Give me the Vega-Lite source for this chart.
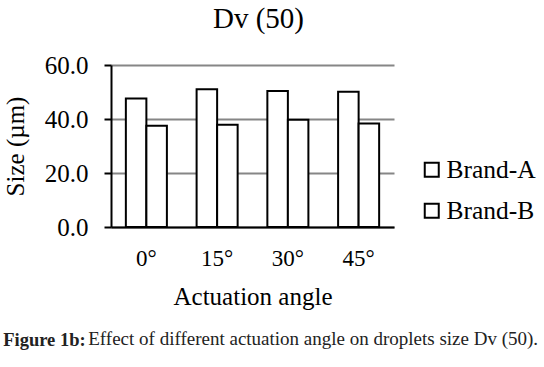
{
  "$schema": "https://vega.github.io/schema/vega-lite/v6.json",
  "padding": {"left": 3, "top": 5, "right": 0, "bottom": 5},
  "background": "white",
  "config": {
    "font": "Liberation Serif",
    "view": {"stroke": null},
    "concat": {"spacing": 0}
  },
  "title": {
    "text": "Effect of different actuation angle on droplets size Dv (50).",
    "orient": "bottom",
    "anchor": "start",
    "font": "Liberation Serif",
    "fontSize": 19,
    "fontWeight": "normal",
    "color": "#222222",
    "dx": 85,
    "dy": -24
  },
  "vconcat": [
    {
      "title": {
        "text": "Figure 1b:",
        "orient": "bottom",
        "anchor": "start",
        "font": "Liberation Serif",
        "fontSize": 18.5,
        "fontWeight": "bold",
        "color": "#222222",
        "offset": 22
      },
      "vconcat": [
        {
          "title": {"text": "Dv (50)", "fontSize": 29, "fontWeight": "normal", "font": "Liberation Serif", "color": "black", "offset": 19, "dx": 6},
          "width": 283,
          "height": 162,
          "data": {
            "values": [
              {"angle": "0°", "brand": "Brand-A", "size": 47.6},
              {"angle": "0°", "brand": "Brand-B", "size": 37.5},
              {"angle": "15°", "brand": "Brand-A", "size": 51.0},
              {"angle": "15°", "brand": "Brand-B", "size": 37.9},
              {"angle": "30°", "brand": "Brand-A", "size": 50.4},
              {"angle": "30°", "brand": "Brand-B", "size": 39.7},
              {"angle": "45°", "brand": "Brand-A", "size": 50.1},
              {"angle": "45°", "brand": "Brand-B", "size": 38.3}
            ]
          },
          "mark": {"type": "bar", "stroke": "black", "strokeWidth": 2},
          "encoding": {
            "x": {
              "field": "angle",
              "type": "nominal",
              "sort": ["0°", "15°", "30°", "45°"],
              "scale": {"paddingInner": 0.42, "paddingOuter": 0.21},
              "axis": {
                "title": "Actuation angle",
                "titleFont": "Liberation Serif",
                "titleFontSize": 25,
                "titleFontWeight": "normal",
                "titleColor": "black",
                "titlePadding": 14,
                "labelFont": "Liberation Serif",
                "labelFontSize": 23,
                "labelColor": "black",
                "labelAngle": 0,
                "labelPadding": 20,
                "ticks": false,
                "domainColor": "black",
                "domainWidth": 2
              }
            },
            "xOffset": {"field": "brand", "type": "nominal"},
            "y": {
              "field": "size",
              "type": "quantitative",
              "scale": {"domain": [0, 60], "nice": false},
              "axis": {
                "title": "Size (µm)",
                "titleFont": "Liberation Serif",
                "titleFontSize": 25,
                "titleFontWeight": "normal",
                "titleColor": "black",
                "titlePadding": 16,
                "values": [0, 20, 40, 60],
                "format": ".1f",
                "labelFont": "Liberation Serif",
                "labelFontSize": 25,
                "labelColor": "black",
                "labelPadding": 16,
                "tickColor": "black",
                "tickSize": 7,
                "tickWidth": 2,
                "domainColor": "black",
                "domainWidth": 2,
                "grid": true,
                "gridColor": "#868686",
                "gridWidth": 2
              }
            },
            "color": {
              "field": "brand",
              "type": "nominal",
              "scale": {"domain": ["Brand-A", "Brand-B"], "range": ["white", "white"]},
              "legend": {
                "title": null,
                "orient": "none",
                "legendX": 308,
                "legendY": 92,
                "symbolType": "square",
                "symbolSize": 196,
                "symbolStrokeColor": "black",
                "symbolStrokeWidth": 2,
                "labelFont": "Liberation Serif",
                "labelFontSize": 25.5,
                "labelColor": "black",
                "labelOffset": 2,
                "rowPadding": 14
              }
            }
          }
        }
      ]
    }
  ]
}
